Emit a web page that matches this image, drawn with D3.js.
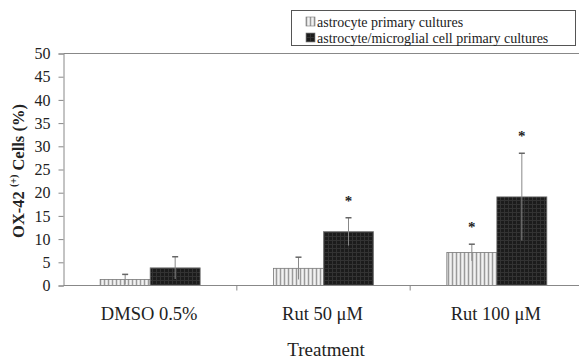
<!DOCTYPE html>
<html>
<head>
<meta charset="utf-8">
<script src="https://cdn.jsdelivr.net/npm/d3@7"></script>
<style>
  body { margin: 0; background: #fff; }
  svg text { font-family: "Liberation Serif", "Times New Roman", serif; fill: #222; }
</style>
</head>
<body>
<script>
// chart data
var categories = ["DMSO 0.5%", "Rut 50 \u03bcM", "Rut 100 \u03bcM"];
var seriesNames = ["astrocyte primary cultures", "astrocyte/microglial cell primary cultures"];
var astroValues = [1.3, 3.7, 7.1];
var astroErrors = [1.1, 2.4, 1.8];
var mixedValues = [3.8, 11.6, 19.1];
var mixedErrors = [2.4, 3.0, 9.4];
var astroStars = [false, false, true];
var mixedStars = [false, true, true];
var yTicks = [0, 5, 10, 15, 20, 25, 30, 35, 40, 45, 50];

window.onload = function() {
    var w = 579, h = 361;
    var left = 63.5, right = 583.5, top = 53.5, bottom = 285.5;

    var svg = d3.select("body").append("svg")
        .attr("width", w)
        .attr("height", h);

    // fill patterns for the two kinds of bars
    var defs = svg.append("defs");
    var light = defs.append("pattern")
        .attr("id", "lightFill")
        .attr("patternUnits", "userSpaceOnUse")
        .attr("width", 4).attr("height", 4);
    light.append("rect").attr("width", 4).attr("height", 4).attr("fill", "#dcdcdc");
    light.append("rect").attr("x", 0).attr("width", 1).attr("height", 4).attr("fill", "#9a9a9a");
    light.append("rect").attr("x", 2).attr("width", 1).attr("height", 4).attr("fill", "#f2f2f2");

    var dark = defs.append("pattern")
        .attr("id", "darkFill")
        .attr("patternUnits", "userSpaceOnUse")
        .attr("width", 4).attr("height", 4);
    dark.append("rect").attr("width", 4).attr("height", 4).attr("fill", "#1c1c1c");
    dark.append("rect").attr("width", 1).attr("height", 4).attr("fill", "#333");
    dark.append("rect").attr("width", 4).attr("height", 1).attr("fill", "#333");

    var x0 = d3.scaleBand().domain(categories).range([left, right]);
    var x1 = d3.scaleBand().domain(seriesNames).range([0, x0.bandwidth()]).paddingOuter(0.733);
    var y = d3.scaleLinear().domain([0, 50]).range([bottom, top]);

    var rows = categories.map(function(c, i) {
        return [
            { cat: c, s: seriesNames[0], v: astroValues[i], e: astroErrors[i], star: astroStars[i], fill: "url(#lightFill)" },
            { cat: c, s: seriesNames[1], v: mixedValues[i], e: mixedErrors[i], star: mixedStars[i], fill: "url(#darkFill)" }
        ];
    });
    var bars = d3.merge(rows);

    // top frame line
    svg.append("line")
        .attr("x1", left).attr("x2", w)
        .attr("y1", top).attr("y2", top)
        .attr("stroke", "#888").attr("stroke-width", 1);

    // y axis
    var yAxis = svg.append("g")
        .attr("transform", "translate(" + left + ",0)")
        .call(d3.axisLeft(y).tickValues(yTicks).tickSize(5).tickPadding(8));
    yAxis.select(".domain").attr("stroke", "#888");
    yAxis.selectAll(".tick line").attr("stroke", "#888");
    yAxis.selectAll(".tick text")
        .attr("font-size", 16)
        .attr("fill", "#222");

    // bars
    svg.selectAll(".bar")
        .data(bars)
        .enter()
        .append("rect")
        .attr("class", "bar")
        .attr("x", function(d) { return x0(d.cat) + x1(d.s); })
        .attr("y", function(d) { return y(d.v); })
        .attr("width", x1.bandwidth())
        .attr("height", function(d) { return y(0) - y(d.v); })
        .attr("fill", function(d) { return d.fill; })
        .attr("stroke", "#777")
        .attr("stroke-width", 0.8);

    // error bars
    var cx = function(d) { return x0(d.cat) + x1(d.s) + x1.bandwidth() / 2; };
    svg.selectAll(".err")
        .data(bars)
        .enter()
        .append("line")
        .attr("class", "err")
        .attr("x1", cx).attr("x2", cx)
        .attr("y1", function(d) { return y(Math.max(d.v - d.e, 0)); })
        .attr("y2", function(d) { return y(d.v + d.e); })
        .attr("stroke", "#888").attr("stroke-width", 1);
    svg.selectAll(".cap")
        .data(bars)
        .enter()
        .append("line")
        .attr("class", "cap")
        .attr("x1", function(d) { return cx(d) - 3; })
        .attr("x2", function(d) { return cx(d) + 3; })
        .attr("y1", function(d) { return y(d.v + d.e); })
        .attr("y2", function(d) { return y(d.v + d.e); })
        .attr("stroke", "#666").attr("stroke-width", 1.5);

    // significance stars
    svg.selectAll(".star")
        .data(bars.filter(function(d) { return d.star; }))
        .enter()
        .append("text")
        .attr("class", "star")
        .attr("x", cx)
        .attr("y", function(d) { return y(d.v + d.e) - 12; })
        .attr("text-anchor", "middle")
        .attr("font-size", 15)
        .attr("font-weight", "bold")
        .text("*");

    // x axis
    var xAxis = svg.append("g")
        .attr("transform", "translate(0," + bottom + ")");
    xAxis.append("line")
        .attr("x1", left).attr("x2", w)
        .attr("stroke", "#888").attr("stroke-width", 1.2);
    xAxis.selectAll(".sep")
        .data(categories.slice(1))
        .enter()
        .append("line")
        .attr("x1", function(d) { return x0(d); })
        .attr("x2", function(d) { return x0(d); })
        .attr("y1", 0).attr("y2", 5)
        .attr("stroke", "#888");
    xAxis.selectAll(".cat")
        .data(categories)
        .enter()
        .append("text")
        .attr("x", function(d) { return x0(d) + x0.bandwidth() / 2 - 1; })
        .attr("y", 34.5)
        .attr("text-anchor", "middle")
        .attr("font-size", 18.5)
        .text(function(d) { return d; });

    // axis titles
    svg.append("text")
        .attr("x", 326)
        .attr("y", 356)
        .attr("text-anchor", "middle")
        .attr("font-size", 19)
        .text("Treatment");

    var yt = svg.append("text")
        .attr("transform", "translate(24,171) rotate(-90)")
        .attr("text-anchor", "middle")
        .attr("font-size", 16.5)
        .attr("font-weight", "bold");
    yt.append("tspan").text("OX-42 ");
    yt.append("tspan").attr("font-size", 10).attr("dy", -7).text("(+)");
    yt.append("tspan").attr("dy", 7).text(" Cells (%)");

    // legend
    var legend = svg.append("g");
    legend.append("rect")
        .attr("x", 291.5).attr("y", 10.5)
        .attr("width", 284).attr("height", 35)
        .attr("fill", "#fff")
        .attr("stroke", "#555");
    var items = legend.selectAll(".item")
        .data(seriesNames)
        .enter()
        .append("g")
        .attr("transform", function(d, i) { return "translate(306," + (17 + i * 16) + ")"; });
    items.append("rect")
        .attr("width", 9).attr("height", 9)
        .attr("fill", function(d, i) { return i === 0 ? "url(#lightFill)" : "url(#darkFill)"; })
        .attr("stroke", "#777").attr("stroke-width", 0.6);
    items.append("text")
        .attr("x", 11)
        .attr("y", 9.5)
        .attr("font-size", 14)
        .text(function(d) { return d; });
};
</script>
</body>
</html>
